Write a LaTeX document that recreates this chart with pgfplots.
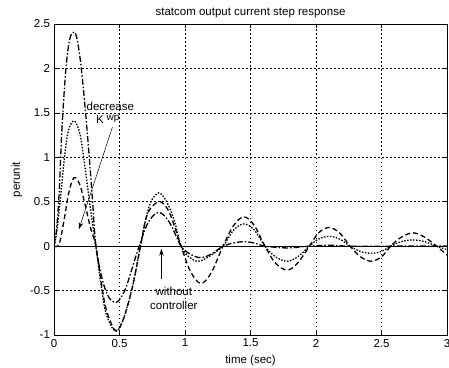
\documentclass[border=0pt]{standalone}
\usepackage{pgfplots}
\pgfplotsset{compat=1.18}
\usepackage{pgfplotstable}
\usepackage{fontspec}
\setmainfont{Liberation Sans}
\usetikzlibrary{arrows.meta}

% Step responses for three values of the controller gain K_wp
\pgfplotstableread{
t y
0 0
0.02 0.2
0.04 0.62
0.06 1.3
0.09 1.98
0.12 2.33
0.155 2.41
0.18 2.3
0.21 1.98
0.25 1.35
0.29 0.6
0.32 0.0
0.37 -0.38
0.42 -0.58
0.48 -0.63
0.54 -0.5
0.59 -0.28
0.65 0.0
0.72 0.27
0.80 0.38
0.88 0.27
0.97 0.0
1.04 -0.09
1.12 -0.13
1.20 -0.09
1.29 0.0
1.37 0.035
1.45 0.05
1.53 0.035
1.61 0.0
1.78 -0.02
1.95 0.0
2.10 0.01
2.26 0.0
2.6 0.0
3.0 0.0
}\curveA
\pgfplotstableread{
t y
0 0
0.02 0.15
0.05 0.55
0.08 1.0
0.11 1.3
0.155 1.41
0.2 1.25
0.24 0.85
0.28 0.4
0.32 0.0
0.36 -0.45
0.40 -0.77
0.47 -0.96
0.53 -0.82
0.60 -0.45
0.66 0.0
0.70 0.3
0.74 0.5
0.80 0.6
0.86 0.5
0.92 0.28
0.97 0.0
1.03 -0.12
1.10 -0.17
1.18 -0.12
1.29 0.0
1.37 0.18
1.45 0.25
1.53 0.18
1.61 0.0
1.69 -0.12
1.78 -0.17
1.86 -0.12
1.95 0.0
2.02 0.08
2.10 0.11
2.18 0.08
2.26 0.0
2.34 -0.06
2.42 -0.08
2.50 -0.06
2.57 0.0
2.65 0.05
2.74 0.07
2.83 0.05
2.92 0.0
3.0 -0.04
}\curveB
\pgfplotstableread{
t y
0 0
0.03 0.0
0.05 0.08
0.08 0.32
0.11 0.58
0.14 0.74
0.165 0.77
0.20 0.68
0.24 0.45
0.28 0.2
0.32 0.0
0.36 -0.4
0.40 -0.72
0.47 -0.95
0.53 -0.82
0.60 -0.45
0.66 0.0
0.70 0.3
0.74 0.43
0.81 0.5
0.88 0.38
0.97 0.0
1.04 -0.28
1.12 -0.42
1.20 -0.3
1.29 0.0
1.37 0.23
1.45 0.33
1.53 0.23
1.61 0.0
1.69 -0.19
1.78 -0.27
1.86 -0.19
1.95 0.0
2.02 0.15
2.10 0.21
2.18 0.15
2.26 0.0
2.34 -0.12
2.42 -0.17
2.50 -0.12
2.57 0.0
2.65 0.1
2.74 0.15
2.83 0.1
2.92 0.0
3.0 -0.1
}\curveC
\pgfplotstableread{
t y
0 0
3 0
}\nocontrol

\begin{document}
\fontsize{11.5}{13}\selectfont
\begin{tikzpicture}
\useasboundingbox (-54pt,-32pt) rectangle (395pt,335pt);
\begin{axis}[
  at={(0pt,0pt)}, anchor=south west,
  scale only axis, width=393pt, height=311pt,
  xmin=0, xmax=3, ymin=-1, ymax=2.5,
  xtick={0,0.5,1,1.5,2,2.5,3},
  xticklabels={0,0.5,1,1.5,2,2.5,3},
  ytick={-1,-0.5,0,0.5,1,1.5,2,2.5},
  yticklabels={-1,-0.5,0,0.5,1,1.5,2,2.5},
  tick align=inside, major tick length=4pt,
  tick style={black, line width=0.5pt},
  axis line style={black, line width=0.6pt},
  grid=major,
  grid style={black, dash pattern=on 1.5pt off 2.5pt, line width=0.5pt},
  ticklabel style={font=\fontsize{11.5}{13}\selectfont},
  label style={font=\fontsize{11.5}{13}\selectfont},
  title style={font=\fontsize{11.5}{13}\selectfont, at={(0.5,1)}, anchor=south, yshift=-4pt},
  title={statcom output current step response},
  xlabel={time (sec)},
  ylabel={perunit},
  xlabel style={yshift=0pt},
  ylabel style={yshift=0pt},
  every axis plot/.append style={black, line width=1.3pt},
]
\addplot[smooth, tension=0.55, dash pattern=on 6pt off 2pt on 1.5pt off 2pt] table {\curveA};
\addplot[smooth, tension=0.55, dash pattern=on 1.5pt off 1.5pt] table {\curveB};
\addplot[smooth, tension=0.55, dash pattern=on 5pt off 3pt] table {\curveC};
\addplot[line width=1.2pt] table {\nocontrol};

\node[inner sep=0pt] at (axis cs:0.43,1.575) {decrease};
\node[inner sep=0pt] at (axis cs:0.35,1.42) {K};
\node[inner sep=0pt, font=\fontsize{10}{11}\selectfont] at (axis cs:0.45,1.43) {wp};
\draw[line width=0.5pt, -{Stealth[length=7pt,width=4.5pt]}] (axis cs:0.446,1.34) -- (axis cs:0.19,0.19);

\node[align=center, inner sep=0pt, font=\fontsize{11.5}{14}\selectfont] at (axis cs:0.915,-0.585) {without\\controller};
\draw[line width=0.6pt, -{Stealth[length=7pt,width=4.5pt]}] (axis cs:0.82,-0.37) -- (axis cs:0.82,-0.03);
\end{axis}
\end{tikzpicture}
\end{document}
